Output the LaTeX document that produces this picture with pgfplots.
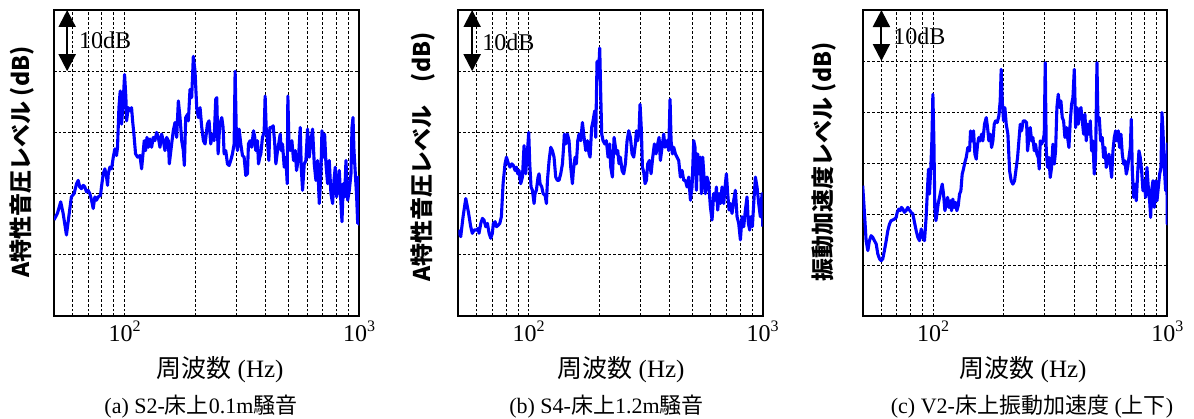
\documentclass[border=0pt]{standalone}
\usepackage{fontspec}
\setmainfont{Liberation Serif}
\newfontfamily\jp{Noto Sans CJK JP}
\usepackage{pgfplots}
\pgfplotsset{compat=1.18}
\usetikzlibrary{arrows.meta}

\newcommand{\tl}[1]{10\raisebox{0.42em}{\fontsize{16}{16}\selectfont #1}}
\pgfplotsset{
 every axis/.append style={
  scale only axis, anchor=south west,
  xmin=50, xmax=1000,
  xtick={100,1000}, xticklabels={\tl{2},\tl{3}},
  minor xtick={60,70,80,90,200,300,400,500,600,700,800,900},
  xmajorgrids, xminorgrids, ymajorgrids,
  yticklabels={},
  major tick length=0pt, minor tick length=0pt,
  grid style={black, line width=0.9pt, dash pattern=on 2.7pt off 2pt},
  minor grid style={black, line width=0.9pt, dash pattern=on 2.7pt off 2pt},
  axis line style={black, line width=2.2pt},
  /pgf/number format/assume math mode=true,
  xticklabel style={font=\fontsize{24}{26}\selectfont, yshift=-1pt},
 },
}
\tikzset{curve/.style={blue, line width=3.1pt, line join=round},
 dbarrow/.style={{Triangle[width=17pt,length=17pt]}-{Triangle[width=17pt,length=17pt]}, line width=2pt, black}}

\begin{document}
\begin{tikzpicture}
\useasboundingbox (0pt,0pt) rectangle (1194pt,418pt);

% ---------------- (a)
\begin{axis}[xmode=log, at={(54pt,102pt)}, width=305pt, height=306pt,
  ymin=0, ymax=50, ytick={10,20,30,40}, xticklabel style={font=\fontsize{24}{26}\selectfont}]
\addplot[curve, no markers] coordinates {
(50,15.7)(51.7,16.76)(53.4,18.65)(54.7,16.76)(56.5,13.24)(59.3,19.46)(60.9,20.0)(62.4,21.62)(63.4,22.16)(64.4,21.08)(65.5,20.81)(66.6,21.35)(67.7,21.08)(68.8,20.27)(69.9,20.54)(71.1,20.0)(72.3,18.92)(73.5,17.57)(74.7,19.46)(75.9,18.92)(77.2,19.46)(79.0,19.73)(79.7,21.08)(81.1,23.24)(82.4,24.05)(83.8,22.70)(84.6,21.35)(85.2,23.24)(86.6,24.32)(88.0,24.05)(89.5,25.95)(90.9,27.30)(92.4,26.22)(93.3,27.57)(94.6,34.05)(95.8,36.76)(97.1,31.35)(98.7,35.14)(100,39.46)(101.3,35.68)(102.0,31.89)(103.7,34.05)(105.4,33.51)(107.1,34.05)(108.2,31.89)(109.6,29.73)(111.4,26.49)(113.7,25.95)(116.3,26.22)(118.2,24.05)(120.2,27.03)(121.3,28.65)(122.9,27.03)(124.6,29.19)(126.2,27.57)(128.3,28.92)(130.4,27.57)(132.6,29.19)(134.7,28.65)(137.0,30.0)(139.3,29.19)(141.6,27.57)(143.9,29.73)(146.3,28.65)(148.7,27.03)(151.2,29.19)(153.7,28.65)(155.2,24.86)(158.8,28.11)(161.4,30.27)(164.1,31.62)(166.8,29.19)(169.6,35.14)(172.4,32.43)(175.3,28.65)(178.1,27.03)(179.9,24.59)(182.3,32.43)(185.8,32.97)(187.1,31.89)(190.2,37.03)(193.3,35.68)(196.5,42.43)(199.8,40.0)(203.1,34.05)(206.4,32.43)(209.9,34.05)(213.4,30.81)(216.9,28.65)(220.5,28.11)
(225.6,31.35)(229.3,31.89)(233.1,28.11)(236.9,29.73)(240.9,28.65)(244.8,35.41)(247.3,35.68)(250.6,26.49)(254.7,31.35)(259.8,32.43)(263.2,30.81)(265.8,26.49)(270.2,27.03)(274.6,24.86)(279.2,24.59)(283.8,25.41)(288.5,26.49)(293.3,28.11)(296.2,40.0)(300.1,28.65)(303.1,27.03)(308.1,30.54)(313.1,28.11)(318.4,26.22)(323.6,25.95)(328.9,22.97)(334.3,23.24)(337.6,28.11)(343.2,28.65)(348.8,27.57)(354.7,30.27)(359.4,29.19)(362.9,27.03)(369.0,28.65)(372.6,24.86)(377.5,25.95)(381.3,26.49)(387.5,29.19)(393.9,30.0)(397.8,35.95)(401.8,30.81)(407.1,28.65)(412.5,25.41)(416.6,30.81)(423.5,30.81)(430.5,31.08)(436.2,28.65)(442.0,24.86)(449.3,27.03)(456.7,28.65)(461.2,29.73)(465.8,27.03)(471.9,28.11)(479.7,24.32)(487.5,25.95)(494.0,21.62)(497.2,35.95)(502.2,28.65)(508.8,27.03)(517.2,28.65)(525.8,25.41)(534.4,27.03)(541.5,23.78)(552.3,25.95)(561.4,30.81)(567.0,24.32)(574.5,20.54)(584.0,24.86)(593.6,25.41)(603.4,30.54)(613.4,25.95)(623.6,28.65)(633.9,30.54)(644.4,24.86)(655.0,22.16)(665.9,25.41)(676.9,18.38)(688.0,23.24)(694.9,30.27)(704.1,25.95)(713.4,29.73)(722.8,24.86)(734.7,21.62)(746.8,25.41)(759.1,20.0)(771.8,18.38)(782.0,22.16)(792.3,24.32)(802.8,19.46)(813.4,21.08)(824.1,23.78)(837.7,18.38)(846.0,15.41)(857.0,21.62)(868.3,19.46)(879.8,25.41)(894.5,18.92)(909.3,20.54)(924.3,23.24)(933.5,30.81)(942.7,32.43)(951.9,27.03)(964.5,23.24)(977.2,19.46)(987.0,15.14)(994.0,22.70)(998.5,15.0)(1000,21.6)
};
\draw[dbarrow] (axis cs:56.9,50) -- (axis cs:56.9,40);
\node[anchor=west, inner sep=0pt, font=\fontsize{24}{24}\selectfont] at (axis cs:63.8,45.1) {10dB};
\end{axis}

% ---------------- (b)
\begin{axis}[xmode=log, at={(458.3pt,102pt)}, width=304.4pt, height=306pt,
  ymin=0, ymax=50, ytick={10,20,30,40}, xticklabel style={font=\fontsize{24}{26}\selectfont}]
\addplot[curve, no markers] coordinates {
(50,14.05)(51.2,12.97)(52.4,16.22)(53.8,19.19)(55.2,17.03)(56.5,14.59)(57.4,13.51)(58.4,14.05)(59.8,14.05)(60.9,14.32)(61.3,13.51)(62.4,15.14)(63.4,15.95)(64.4,15.68)(65.5,14.59)(66.6,15.14)(67.7,13.51)(68.8,12.70)(69.9,13.51)(70.6,15.14)(71.8,15.41)(72.8,14.59)(74.2,14.86)(75.2,15.14)(76.4,16.22)(77.7,21.62)(79.2,24.86)(80.3,25.95)(81.9,24.86)(83.2,24.32)(84.6,24.86)(86.0,24.59)(87.4,23.78)(88.6,24.32)(89.7,23.24)(90.9,23.78)(92.4,21.62)(94.0,22.70)(95.5,27.84)(97.1,23.24)(98.1,25.95)(99.0,27.57)(100,30.0)(101.0,24.86)(102.3,21.08)(103.7,20.54)(105.4,18.38)(106.4,20.0)(107.8,20.54)(109.6,22.70)(110.7,23.24)(111.8,21.62)(113.7,21.08)(115.2,20.0)(117.4,19.73)(119.0,18.38)(120.2,22.16)(122.2,25.41)(124.2,27.57)(126.2,27.03)(128.3,25.95)(130.4,22.70)(132.6,22.16)(134.7,22.16)(137.0,23.24)(139.3,24.86)(140.6,27.03)(142.0,29.73)(143.9,28.11)(146.3,29.73)(148.7,28.65)(151.2,24.32)(153.7,21.62)(155.2,23.78)(157.8,25.95)(159.8,24.86)(162.0,28.65)(164.1,29.73)(166.8,28.65)(169.6,31.62)(172.4,29.19)(175.3,27.03)(178.1,28.65)(181.1,26.49)(182.9,25.95)(185.8,30.81)(188.3,31.89)(191.4,33.51)(193.3,29.19)(195.9,41.62)(198.5,38.92)(201.1,43.78)(203.1,36.22)(205.1,29.73)(207.8,28.65)(211.3,28.11)(214.7,28.65)(218.3,25.95)(221.9,28.11)(224.1,24.32)(227.8,22.70)(231.6,29.19)
(236.9,26.49)(240.1,27.03)(243.2,24.86)(246.4,25.95)(250.6,23.78)(254.7,23.24)(258.9,24.86)(263.2,28.65)(267.6,30.27)(272.0,29.19)(276.5,26.49)(281.0,25.95)(285.7,28.11)(288.5,30.27)(292.3,28.65)(296.2,30.27)(299.1,34.59)(303.1,30.27)(306.1,24.32)(310.1,23.51)(314.2,21.62)(318.4,22.16)(322.5,24.86)(327.9,25.41)(333.3,23.24)(338.8,25.95)(344.4,28.11)(350.1,26.49)(355.9,28.11)(360.6,29.19)(365.3,25.41)(371.4,27.57)(377.5,29.73)(382.5,27.57)(390.1,28.65)(396.6,27.03)(401.8,35.41)(405.8,28.65)(411.1,26.49)(416.6,27.57)(423.5,26.49)(430.5,25.95)(437.5,25.41)(444.7,22.70)(452.2,23.78)(459.7,22.16)(467.3,22.16)(475.0,21.08)(482.9,22.70)(490.9,18.92)(498.9,21.08)(507.2,28.65)(513.8,27.57)(520.6,20.54)(527.5,26.49)(534.4,23.24)(541.5,25.95)(546.9,20.0)(554.1,25.95)(561.4,22.70)(568.9,20.0)(578.3,22.70)(587.9,21.62)(597.6,17.84)(607.4,15.68)(617.5,20.0)(627.7,18.92)(633.9,21.08)(642.3,17.30)(650.8,20.0)(659.4,18.38)(670.3,21.08)(681.4,18.38)(692.7,21.62)(699.5,23.24)(708.7,20.0)(718.1,17.30)(727.6,18.38)(739.6,16.76)(751.8,18.92)(764.2,20.54)(776.9,16.22)(789.7,15.14)(802.8,12.43)(816.0,16.22)(829.5,14.59)(843.2,17.30)(857.0,19.46)(868.3,15.14)(879.8,14.05)(891.5,16.22)(903.3,14.59)(915.3,18.38)(930.5,22.70)(945.8,21.08)(961.4,18.38)(977.2,16.22)(993.6,20.0)(1000,14.59)
};
\draw[dbarrow] (axis cs:57.3,50) -- (axis cs:57.3,40);
\node[anchor=west, inner sep=0pt, font=\fontsize{24}{24}\selectfont] at (axis cs:63.2,44.8) {10dB};
\end{axis}

% ---------------- (c)
\begin{axis}[xmode=log, at={(862.7pt,102pt)}, width=304.6pt, height=306pt,
  ymin=0, ymax=60, ytick={10,20,30,40,50}, xticklabel style={font=\fontsize{24}{26}\selectfont}]
\addplot[curve, no markers] coordinates {
(50,25.54)(50.9,19.99)(51.7,14.77)(52.6,12.82)(53.4,14.77)(54.3,15.75)(55.2,15.43)(56.1,14.77)(57.1,14.12)(58.0,12.17)(59.0,11.19)(60.0,10.86)(60.9,11.19)(61.9,12.82)(63.0,14.77)(64.0,16.73)(65.1,18.04)(66.1,18.69)(67.2,18.82)(68.4,19.02)(69.5,19.34)(70.2,20.32)(71.3,20.97)(72.3,20.65)(73.2,21.30)(74.2,20.97)(75.4,20.32)(76.6,20.65)(77.9,21.30)(79.2,20.78)(80.5,20.32)(81.9,19.99)(83.2,18.36)(84.6,16.73)(86.0,15.43)(87.4,14.77)(88.9,17.06)(90.3,15.43)(91.8,14.77)(93.3,19.34)(94.6,25.21)(95.5,28.80)(96.4,23.91)(97.7,29.13)(98.7,34.34)(99.7,43.48)(100.7,34.34)(101.6,21.30)(102.7,18.69)(103.7,19.99)(105.0,21.95)(106.4,23.26)(108.2,24.89)(109.3,25.86)(110.7,23.91)(112.2,20.65)(113.7,21.95)(115.2,23.26)(116.7,21.30)(118.2,22.60)(119.8,20.65)(121.3,22.93)(122.9,21.30)(124.6,22.28)(126.2,20.65)(127.9,21.62)(129.6,23.91)(131.3,24.56)(133.0,27.82)(134.7,28.80)(136.5,30.10)(138.4,31.08)(140.6,33.04)(143.0,32.39)(144.4,36.30)(146.8,34.34)(148.7,36.30)(150.7,31.74)(152.7,30.76)(154.7,33.69)(156.7,35.00)(158.8,34.34)(160.9,35.65)(163.0,34.34)(165.7,37.61)(168.5,38.91)(170.7,36.95)(172.9,34.34)(175.3,35.65)(177.6,33.04)(179.9,34.34)(182.3,37.61)(184.7,38.26)(187.7,37.93)(190.8,39.24)(193.3,42.17)(195.2,48.37)(197.2,42.17)(199.8,38.26)(202.4,40.87)(205.1,37.61)(208.5,35.65)(212.0,28.47)(215.4,26.52)(219.0,25.86)(222.6,26.52)
(229.3,31.08)(232.3,34.34)(235.4,37.61)(238.5,36.30)(242.4,38.26)(246.4,38.26)(250.6,37.93)(253.0,32.39)(256.4,35.00)(259.8,36.95)(263.2,34.34)(266.7,35.00)(270.2,32.39)(273.7,33.69)(277.3,31.74)(281.0,31.08)(283.8,28.80)(286.6,34.34)(290.4,33.69)(294.2,34.34)(298.1,35.65)(301.0,49.67)(304.0,32.39)(308.1,29.13)(312.1,31.08)(316.2,27.17)(320.4,29.13)(324.6,33.69)(328.9,29.78)(333.3,32.39)(337.6,40.87)(342.1,43.48)(346.6,40.87)(351.2,42.17)(355.9,38.91)(360.6,38.26)(365.3,35.00)(371.4,36.95)(375.1,35.00)(380.1,33.04)(385.1,38.26)(390.1,41.52)(395.3,42.82)(400.6,48.37)(405.8,36.95)(411.1,40.87)(416.6,37.61)(422.0,40.22)(427.7,40.87)(433.4,38.26)(439.1,35.65)(444.7,39.56)(450.6,34.34)(456.6,37.61)(462.7,35.65)(468.8,38.26)(475.0,32.39)(481.3,34.34)(487.5,27.82)(494.0,31.08)(500.6,49.67)(505.5,38.26)(512.2,38.91)(519.0,34.34)(527.5,35.00)(534.4,31.08)(541.5,33.04)(548.6,29.13)(555.9,30.43)(563.2,31.74)(570.6,29.78)(578.3,27.17)(585.9,32.39)(593.6,35.00)(601.4,36.30)(609.4,34.34)(617.5,36.30)(625.6,33.04)(633.9,35.65)(642.3,31.74)(650.8,29.78)(659.4,30.43)(668.1,27.82)(676.9,29.13)(685.9,31.08)(694.9,33.04)(701.8,38.58)(708.7,28.47)(718.1,23.26)(727.6,25.86)(737.2,22.60)(746.8,27.82)(756.7,32.39)(766.6,31.08)(776.9,28.47)(787.0,24.56)(797.4,26.52)(807.9,23.26)(818.6,29.13)(829.5,25.21)(840.4,22.60)(848.8,19.34)(857.0,24.56)(868.3,26.52)(879.8,21.30)(891.5,26.52)(903.3,22.60)(915.3,25.21)(927.4,27.82)(939.6,29.13)(949.0,39.89)(958.3,36.30)(970.9,29.13)(983.8,24.56)(996.8,26.52)(998.5,18.04)(1000,34.0)
};
\draw[dbarrow] (axis cs:60.1,60) -- (axis cs:60.1,50);
\node[anchor=west, inner sep=0pt, font=\fontsize{24}{24}\selectfont] at (axis cs:67.5,54.9) {10dB};
\end{axis}

% ---------------- labels
\node[rotate=90, font=\fontsize{23}{23}\selectfont\jp\bfseries] at (22pt,256pt) {A特性音圧レベル (dB)};
\node[rotate=90, font=\fontsize{23}{23}\selectfont\jp\bfseries] at (423pt,261pt) {A特性音圧レベル　(dB)};
\node[rotate=90, font=\fontsize{23}{23}\selectfont\jp\bfseries] at (824pt,256pt) {振動加速度レベル (dB)};

\node[font=\fontsize{25}{25}\selectfont] at (220pt,48pt) {{\jp 周波数} (Hz)};
\node[font=\fontsize{25}{25}\selectfont] at (621pt,48pt) {{\jp 周波数} (Hz)};
\node[font=\fontsize{25}{25}\selectfont] at (1023pt,48pt) {{\jp 周波数} (Hz)};

\node[font=\fontsize{22}{22}\selectfont] at (201pt,11pt) {(a) S2-{\jp 床上}0.1m{\jp 騒音}};
\node[font=\fontsize{22}{22}\selectfont] at (606.5pt,11pt) {(b) S4-{\jp 床上}1.2m{\jp 騒音}};
\node[font=\fontsize{22}{22}\selectfont] at (1032pt,11pt) {(c) V2-{\jp 床上振動加速度} ({\jp 上下})};
\end{tikzpicture}
\end{document}
